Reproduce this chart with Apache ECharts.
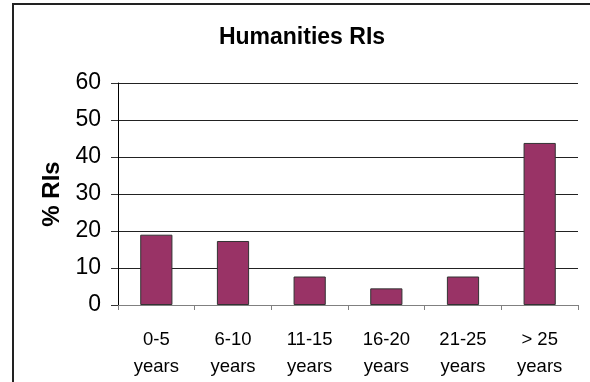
<!DOCTYPE html>
<html>
<head>
<meta charset="utf-8">
<script src="https://cdn.jsdelivr.net/npm/echarts@6/dist/echarts.min.js"></script>
<style>
html,body{margin:0;padding:0;background:#fff;}
#c{width:590px;height:382px;}
</style>
</head>
<body>
<div id="c"></div>
<script>
const categories = ['0-5\nyears', '6-10\nyears', '11-15\nyears', '16-20\nyears', '21-25\nyears', '> 25\nyears'];
const values = [19.0, 17.3, 7.7, 4.5, 7.7, 43.8];
const titleText = 'Humanities RIs';
const yAxisName = '% RIs';

const FONT = '"Liberation Sans", Arial, sans-serif';
const chart = echarts.init(document.getElementById('c'), null, {renderer: 'canvas'});
chart.setOption({
  animation: false,
  backgroundColor: '#fff',
  graphic: [{
    type: 'rect',
    shape: {x: 13, y: 4, width: 620, height: 420},
    style: {fill: 'none', stroke: '#222', lineWidth: 2},
    silent: true
  }],
  title: {
    text: titleText,
    left: 297,
    top: 21,
    textAlign: 'center',
    textStyle: {fontFamily: FONT, fontWeight: 'bold', fontSize: 23, color: '#000'}
  },
  grid: {left: 118, right: 12, top: 83, bottom: 77, containLabel: false},
  xAxis: {
    type: 'category',
    data: categories,
    axisLine: {show: true, lineStyle: {color: '#808080', width: 1}},
    axisTick: {show: true, length: 5, alignWithLabel: false, lineStyle: {color: '#808080'}},
    axisLabel: {fontFamily: FONT, fontSize: 18.5, color: '#000', margin: 21, lineHeight: 27, interval: 0},
    splitLine: {show: false}
  },
  yAxis: {
    type: 'value',
    min: 0, max: 60, interval: 10,
    name: yAxisName,
    nameLocation: 'middle',
    nameRotate: 90,
    nameGap: 53,
    nameTextStyle: {fontFamily: FONT, fontWeight: 'bold', fontSize: 24, color: '#000'},
    axisLine: {show: true, lineStyle: {color: '#000', width: 1}},
    axisTick: {show: true, length: 7, lineStyle: {color: '#333'}},
    axisLabel: {fontFamily: FONT, fontSize: 23, color: '#000', margin: 17},
    splitLine: {show: true, lineStyle: {color: '#222', width: 1}}
  },
  series: [{
    type: 'bar',
    data: values,
    barWidth: '42%',
    itemStyle: {color: '#993366', borderColor: '#333', borderWidth: 1}
  }]
});
</script>
</body>
</html>
